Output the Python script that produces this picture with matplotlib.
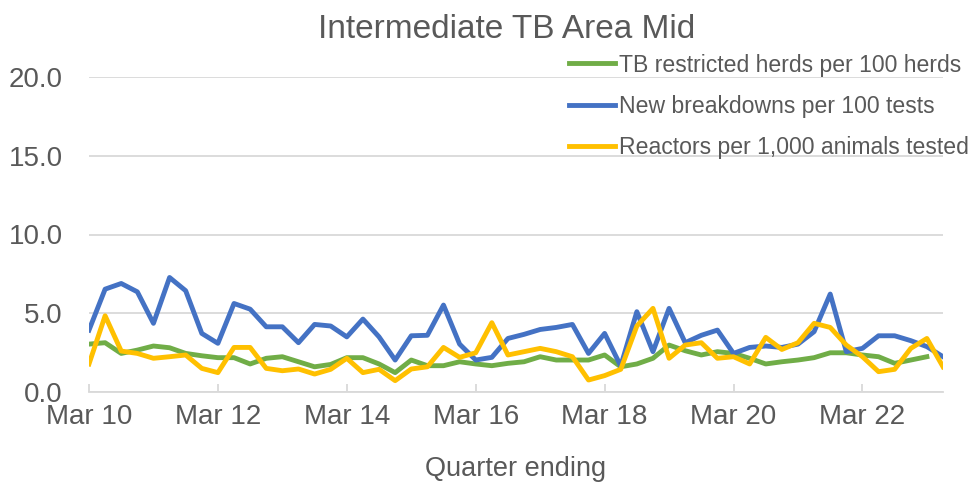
import matplotlib
matplotlib.use("Agg")
import matplotlib.pyplot as plt
import numpy as np

# Quarterly series, Mar 10 .. Jun 23 (54 quarters)
tick_labels = ["Mar 10", "Mar 12", "Mar 14", "Mar 16", "Mar 18", "Mar 20",
               "Mar 22"]
tick_positions = [0, 8, 16, 24, 32, 40, 48]

restricted = [3.04, 3.13, 2.45, 2.66, 2.92, 2.81, 2.45, 2.30, 2.18, 2.18,
              1.78, 2.14, 2.24, 1.92, 1.60, 1.75, 2.18, 2.18, 1.78, 1.23,
              2.03, 1.67, 1.67, 1.92, 1.78, 1.67, 1.82, 1.92, 2.24, 2.03,
              2.03, 2.03, 2.35, 1.60, 1.78, 2.14, 2.98, 2.62, 2.35, 2.56,
              2.45, 2.14, 1.78, 1.92, 2.03, 2.18, 2.49, 2.49, 2.35, 2.24,
              1.82, 2.03, 2.24, np.nan]
breakdowns = [3.93, 6.53, 6.89, 6.36, 4.36, 7.27, 6.43, 3.72, 3.09, 5.62,
              5.26, 4.14, 4.14, 3.13, 4.29, 4.19, 3.50, 4.63, 3.50, 2.03,
              3.57, 3.60, 5.52, 3.04, 2.03, 2.20, 3.40, 3.66, 3.97, 4.10,
              4.29, 2.45, 3.72, 1.65, 5.10, 2.56, 5.31, 3.13, 3.60, 3.93,
              2.45, 2.83, 2.92, 2.83, 3.04, 3.83, 6.22, 2.56, 2.77, 3.57,
              3.57, 3.26, 2.88, 2.24]
reactors = [1.78, 4.84, 2.60, 2.45, 2.14, 2.24, 2.35, 1.50, 1.23, 2.83,
            2.83, 1.50, 1.35, 1.46, 1.14, 1.44, 2.14, 1.23, 1.44, 0.72,
            1.46, 1.60, 2.83, 2.20, 2.49, 4.40, 2.35, 2.56, 2.77, 2.56,
            2.24, 0.76, 1.04, 1.44, 4.19, 5.31, 2.14, 2.98, 3.13, 2.14,
            2.24, 1.78, 3.47, 2.70, 3.13, 4.36, 4.10, 2.98, 2.24, 1.29,
            1.44, 2.77, 3.40, 1.60]

text_col = "#595959"
grid_col = "#d9d9d9"
plt.rcParams['font.family'] = ['Liberation Sans', 'DejaVu Sans']

W, H = 975, 482
fig = plt.figure(figsize=(W / 100, H / 100), dpi=100)
ax = fig.add_axes([89 / W, (H - 392) / H, (943 - 89) / W, (392 - 77) / H])

x = np.arange(len(breakdowns))
ax.plot(x, restricted, color="#70AD47", lw=3.5,
        label="TB restricted herds per 100 herds", solid_joinstyle='round')
ax.plot(x, breakdowns, color="#4472C4", lw=3.5,
        label="New breakdowns per 100 tests", solid_joinstyle='round')
ax.plot(x, reactors, color="#FFC000", lw=3.5,
        label="Reactors per 1,000 animals tested", solid_joinstyle='round')

ax.set_xlim(0, len(breakdowns) - 1)
ax.set_ylim(0, 20)
ax.set_yticks([0, 5, 10, 15, 20])
ax.set_yticklabels([f"{v:.1f}" for v in [0, 5, 10, 15, 20]])
ax.set_xticks(tick_positions)
ax.set_xticklabels(tick_labels)
ax.grid(axis='y', color=grid_col, lw=1.3)
ax.set_axisbelow(True)
for s in ['top', 'right', 'left']:
    ax.spines[s].set_visible(False)
ax.spines['bottom'].set_color(grid_col)
ax.spines['bottom'].set_linewidth(1.3)
ax.tick_params(axis='x', direction='in', length=6, color=grid_col,
               width=1.3, labelsize=20, labelcolor=text_col, pad=9)
ax.tick_params(axis='y', length=0, labelsize=20, labelcolor=text_col, pad=19)

ax.set_xlabel("Quarter ending", fontsize=19.5, color=text_col, labelpad=18)
fig.suptitle("Intermediate TB Area Mid", fontsize=24, color=text_col,
             x=507 / W, y=1 - 14 / H, va='top')

leg = ax.legend(loc='upper left', bbox_to_anchor=(557 / W, 1 - 42 / H),
                bbox_transform=fig.transFigure, frameon=False, fontsize=16.6,
                handlelength=2.0, handletextpad=0.2, labelspacing=0.8,
                borderpad=0)
for t in leg.get_texts():
    t.set_color(text_col)

fig.savefig("out.png", dpi=100)
